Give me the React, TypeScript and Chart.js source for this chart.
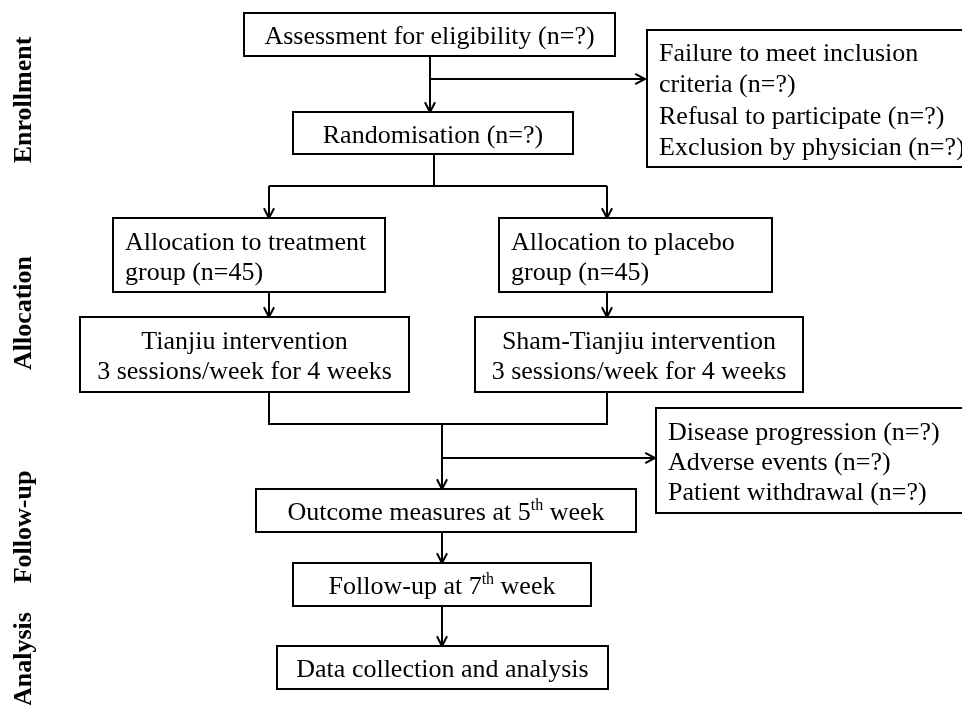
import React, { useEffect, useRef } from "react";
import { Chart, registerables } from "chart.js";

Chart.register(...registerables);

// ---- Flowchart content (data units: 0..962 wide, 0..705 tall) ----
const nodeLines: string[][] = [
  ["Assessment for eligibility (n=?)"],
  ["Failure to meet inclusion", "criteria (n=?)", "Refusal to participate (n=?)", "Exclusion by physician (n=?)"],
  ["Randomisation (n=?)"],
  ["Allocation to treatment", "group (n=45)"],
  ["Allocation to placebo", "group (n=45)"],
  ["Tianjiu intervention", "3 sessions/week for 4 weeks"],
  ["Sham-Tianjiu intervention", "3 sessions/week for 4 weeks"],
  ["Disease progression (n=?)", "Adverse events (n=?)", "Patient withdrawal (n=?)"],
  ["Outcome measures at 5^th week"],
  ["Follow-up at 7^th week"],
  ["Data collection and analysis"],
];
const nodeAlign = ["center", "left", "center", "left", "left", "center", "center", "left", "center", "center", "center"];
const nodeLeft = [244, 647, 293, 113, 499, 80, 475, 656, 256, 293, 277];
const nodeRight = [615, 980, 573, 385, 772, 409, 803, 980, 636, 591, 608];
const nodeTop = [13, 30, 112, 218, 218, 317, 317, 408, 489, 563, 646];
const nodeBottom = [56, 167, 154, 292, 292, 392, 392, 513, 532, 606, 689];

const connX: number[][] = [
  [430, 430], [430, 645], [434, 434], [269, 607], [269, 269], [607, 607],
  [269, 269], [607, 607], [269, 269, 607, 607], [442, 442], [442, 655], [442, 442], [442, 442],
];
const connY: number[][] = [
  [56, 112], [79, 79], [154, 186], [186, 186], [186, 218], [186, 218],
  [292, 317], [292, 317], [392, 424, 424, 392], [424, 489], [458, 458], [532, 563], [606, 646],
];
const connArrow = [true, true, false, false, true, true, true, true, false, true, true, true, true];

const stageLabels = ["Enrollment", "Allocation", "Follow-up", "Analysis"];
const stageY = [100, 313, 527, 659];
const stageX = 24;

const FONT = '"Liberation Serif", "Times New Roman", serif';

function drawRich(ctx: CanvasRenderingContext2D, text: string, x: number, y: number, align: string) {
  const parts: { t: string; sup: boolean }[] = [];
  const m = text.match(/^(.*?)\^(\S+)(.*)$/);
  if (m) {
    parts.push({ t: m[1], sup: false }, { t: m[2], sup: true }, { t: m[3], sup: false });
  } else parts.push({ t: text, sup: false });
  const normal = `26px ${FONT}`;
  const small = `16px ${FONT}`;
  let total = 0;
  const widths = parts.map((p) => {
    ctx.font = p.sup ? small : normal;
    const w = ctx.measureText(p.t).width;
    total += w;
    return w;
  });
  let cx = align === "center" ? x - total / 2 : x;
  ctx.textAlign = "left";
  parts.forEach((p, i) => {
    ctx.font = p.sup ? small : normal;
    ctx.textBaseline = "alphabetic";
    ctx.fillText(p.t, cx, p.sup ? y - 0.5 : y + 9.5);
    cx += widths[i];
  });
}

const flowPlugin = {
  id: "flow",
  afterDraw(chart: any) {
    const { ctx, scales } = chart;
    const sx = (v: number) => scales.x.getPixelForValue(v);
    const sy = (v: number) => scales.y.getPixelForValue(v);
    ctx.save();
    ctx.fillStyle = "#fff";
    ctx.fillRect(0, 0, chart.width, chart.height);
    ctx.strokeStyle = "#000";
    ctx.fillStyle = "#000";
    ctx.lineWidth = 2;
    ctx.lineCap = "butt";
    ctx.lineJoin = "miter";

    connX.forEach((xs, i) => {
      const ys = connY[i];
      ctx.beginPath();
      xs.forEach((xv, j) => {
        const px = sx(xv), py = sy(ys[j]);
        if (j === 0) ctx.moveTo(px, py);
        else ctx.lineTo(px, py);
      });
      ctx.stroke();
      if (connArrow[i]) {
        const n = xs.length;
        const x1 = sx(xs[n - 1]), y1 = sy(ys[n - 1]);
        const x0 = sx(xs[n - 2]), y0 = sy(ys[n - 2]);
        const ang = Math.atan2(y1 - y0, x1 - x0);
        const L = 11, a = 0.48;
        ctx.beginPath();
        ctx.moveTo(x1 - L * Math.cos(ang - a), y1 - L * Math.sin(ang - a));
        ctx.lineTo(x1, y1);
        ctx.lineTo(x1 - L * Math.cos(ang + a), y1 - L * Math.sin(ang + a));
        ctx.stroke();
      }
    });

    nodeLines.forEach((lines, i) => {
      const l = sx(nodeLeft[i]), r = sx(nodeRight[i]);
      const t = sy(nodeTop[i]), b = sy(nodeBottom[i]);
      ctx.fillStyle = "#fff";
      ctx.fillRect(l, t, r - l, b - t);
      ctx.strokeRect(l, t, r - l, b - t);
      ctx.fillStyle = "#000";
      const lh = lines.length === 4 ? 31.3 : 30;
      const cy = (t + b) / 2;
      lines.forEach((s, k) => {
        const y = cy + (k - (lines.length - 1) / 2) * lh;
        const x = nodeAlign[i] === "center" ? (l + r) / 2 : l + 12;
        drawRich(ctx, s, x, y, nodeAlign[i]);
      });
    });

    ctx.font = `bold 26px ${FONT}`;
    ctx.textAlign = "center";
    ctx.textBaseline = "middle";
    stageLabels.forEach((s, i) => {
      ctx.save();
      ctx.translate(sx(stageX), sy(stageY[i]));
      ctx.rotate(-Math.PI / 2);
      ctx.fillText(s, 0, 0);
      ctx.restore();
    });
    ctx.restore();
  },
};

export default function App() {
  const ref = useRef<HTMLCanvasElement | null>(null);
  useEffect(() => {
    if (!ref.current) return;
    const chart = new Chart(ref.current, {
      type: "scatter",
      data: {
        datasets: [
          {
            data: nodeLeft.map((v, i) => ({ x: (v + nodeRight[i]) / 2, y: (nodeTop[i] + nodeBottom[i]) / 2 })),
            pointRadius: 0,
          },
        ],
      },
      options: {
        animation: false,
        responsive: false,
        layout: { padding: 0 },
        plugins: { legend: { display: false }, tooltip: { enabled: false } },
        scales: {
          x: { type: "linear", min: 0, max: 962, display: false },
          y: { type: "linear", min: 0, max: 705, reverse: true, display: false },
        },
      },
      plugins: [flowPlugin],
    });
    return () => chart.destroy();
  }, []);
  return (
    <div style={{ position: "fixed", left: 0, top: 0, width: 962, height: 705, background: "#fff" }}>
      <canvas ref={ref} width={962} height={705} style={{ width: 962, height: 705, display: "block" }} />
    </div>
  );
}
